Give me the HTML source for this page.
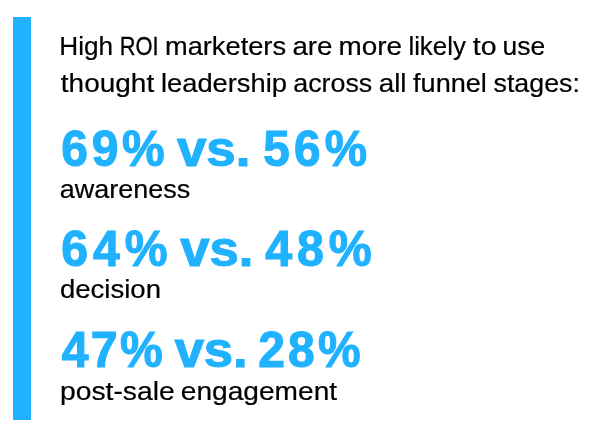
<!DOCTYPE html>
<html lang="en">
<head>
<meta charset="utf-8">
<title>High ROI marketers and thought leadership</title>
<style>
html, body { margin: 0; padding: 0; background: #ffffff; }
body { position: relative; width: 600px; height: 436px; overflow: hidden;
  font-family: "Liberation Sans", sans-serif; color: #000000; }
.bar { position: absolute; left: 13px; top: 17px; width: 18px; height: 403px; background: #20b2ff; }
p { position: absolute; margin: 0; padding: 0; white-space: nowrap; font-size: 0; }
p span { display: inline-block; transform-origin: 0 0; }
.lead span, .label span { font-size: 25px; line-height: 32px; font-weight: 400; -webkit-text-stroke: 0.2px #000000; }
.stat span { font-size: 50px; line-height: 60px; font-weight: 700; color: #20b2ff; -webkit-text-stroke: 1.15px #20b2ff; }
</style>
</head>
<body>
<div class="bar"></div>
<p class="lead" style="left:59px;top:30px"><span style="width:61px;transform:translateX(0.32px) scaleX(1.0468)">High</span> <span style="width:45px;-webkit-text-stroke-width:0.3px;transform:translateX(-0.20px) scaleX(0.8736)">ROI</span> <span style="width:127px;transform:translateX(-0.06px) scaleX(1.0897)">marketers</span> <span style="width:47px;transform:translateX(0.45px) scaleX(1.1069)">are</span> <span style="width:69px;transform:translateX(-0.48px) scaleX(1.1163)">more</span> <span style="width:65px;transform:translateX(0.40px) scaleX(1.0330)">likely</span> <span style="width:30px;transform:translateX(-0.18px) scaleX(1.1398)">to</span> <span style="width:44px;transform:translateX(-0.45px) scaleX(1.0581)">use</span></p>
<p class="lead" style="left:61px;top:67px"><span style="width:100px;transform:translateX(-0.17px) scaleX(1.1189)">thought</span> <span style="width:132px;transform:translateX(-0.05px) scaleX(1.0920)">leadership</span> <span style="width:86px;transform:translateX(0.24px) scaleX(1.0732)">across</span> <span style="width:34px;transform:translateX(-0.32px) scaleX(1.1119)">all</span> <span style="width:81px;transform:translateX(0.02px) scaleX(1.0842)">funnel</span> <span style="width:88px;transform:translateX(-0.45px) scaleX(1.0708)">stages:</span></p>
<p class="stat" style="left:61px;top:119px"><span style="width:116px;letter-spacing:3.85px;transform:translateX(0.35px) scaleX(0.9592)">69%</span> <span style="width:86px;transform:translateX(-0.12px) scaleX(1.0568)">vs.</span> <span style="width:106px;letter-spacing:4.35px;transform:translateX(0.36px) scaleX(0.9534)">56%</span></p>
<p class="label" style="left:60px;top:173px"><span style="width:133px;transform:translateX(-0.34px) scaleX(1.0793)">awareness</span></p>
<p class="stat" style="left:61px;top:219px"><span style="width:119px;letter-spacing:5.10px;transform:translateX(0.36px) scaleX(0.9630)">64%</span> <span style="width:85px;transform:translateX(0.35px) scaleX(1.0515)">vs.</span> <span style="width:110px;letter-spacing:4.95px;transform:translateX(0.28px) scaleX(0.9671)">48%</span></p>
<p class="label" style="left:60px;top:273px"><span style="width:103px;transform:translateX(-0.11px) scaleX(1.1020)">decision</span></p>
<p class="stat" style="left:62px;top:320px"><span style="width:113px;letter-spacing:2.45px;transform:translateX(-0.24px) scaleX(0.9618)">47%</span> <span style="width:83px;transform:translateX(-0.37px) scaleX(1.0516)">vs.</span> <span style="width:105px;letter-spacing:3.35px;transform:translateX(0.24px) scaleX(0.9588)">28%</span></p>
<p class="label" style="left:60px;top:375px"><span style="width:121px;transform:translateX(-0.04px) scaleX(1.1311)">post-sale</span> <span style="width:159px;transform:translateX(-0.22px) scaleX(1.1244)">engagement</span></p>
</body>
</html>
